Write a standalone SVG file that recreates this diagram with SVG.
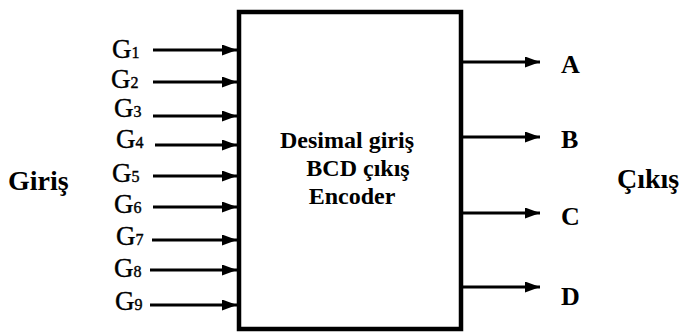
<svg xmlns="http://www.w3.org/2000/svg" width="687" height="334" viewBox="0 0 687 334">
<style>
.ln{stroke:#000;stroke-width:2.8;fill:none}
.g{font-family:"Liberation Serif","Times New Roman",serif;font-size:27px;fill:#000;stroke:#000;stroke-width:0.4}
.g tspan{font-size:16px}
.b{font-family:"Liberation Serif","Times New Roman",serif;font-weight:bold;fill:#000}
</style>
<defs>
<marker id="ah" markerWidth="15" markerHeight="11" refX="15" refY="5.5" orient="auto" markerUnits="userSpaceOnUse">
<path d="M0,0 L15,5.5 L0,11 Z" fill="#000"/>
</marker>
</defs>
<rect width="687" height="334" fill="#fff"/>
<g id="encoder">
<rect x="239" y="12" width="222" height="317" fill="#fff" stroke="#000" stroke-width="4.5"/>
<text class="b" font-size="24" text-anchor="middle" x="347" y="148">Desimal giriş</text>
<text class="b" font-size="24" text-anchor="middle" x="358" y="176">BCD çıkış</text>
<text class="b" font-size="24" text-anchor="middle" x="352" y="204">Encoder</text>
</g>
<g id="inputs">
<text class="g" x="112" y="58">G<tspan>1</tspan></text>
<text class="g" x="111" y="88">G<tspan>2</tspan></text>
<text class="g" x="114" y="117">G<tspan>3</tspan></text>
<text class="g" x="116" y="148">G<tspan>4</tspan></text>
<text class="g" x="112" y="182">G<tspan>5</tspan></text>
<text class="g" x="114" y="213">G<tspan>6</tspan></text>
<text class="g" x="116" y="245">G<tspan>7</tspan></text>
<text class="g" x="114" y="277">G<tspan>8</tspan></text>
<text class="g" x="115" y="310">G<tspan>9</tspan></text>
</g>
<g id="outputs">
<text class="b" font-size="26" x="561" y="73">A</text>
<text class="b" font-size="26" x="561" y="148">B</text>
<text class="b" font-size="26" x="561" y="225">C</text>
<text class="b" font-size="26" x="561" y="305">D</text>
</g>
<g id="label-giris"><text class="b" font-size="28" x="8" y="190">Giriş</text></g>
<g id="label-cikis"><text class="b" font-size="28" x="617" y="188">Çıkış</text></g>
<g id="connectors">
<line class="ln" x1="153" y1="50" x2="237" y2="50" marker-end="url(#ah)"/>
<line class="ln" x1="153" y1="82" x2="237" y2="82" marker-end="url(#ah)"/>
<line class="ln" x1="153" y1="116" x2="237" y2="116" marker-end="url(#ah)"/>
<line class="ln" x1="155" y1="145" x2="237" y2="145" marker-end="url(#ah)"/>
<line class="ln" x1="153" y1="176" x2="237" y2="176" marker-end="url(#ah)"/>
<line class="ln" x1="153" y1="207" x2="237" y2="207" marker-end="url(#ah)"/>
<line class="ln" x1="152" y1="240" x2="237" y2="240" marker-end="url(#ah)"/>
<line class="ln" x1="150" y1="270" x2="237" y2="270" marker-end="url(#ah)"/>
<line class="ln" x1="150" y1="305" x2="237" y2="305" marker-end="url(#ah)"/>
<line class="ln" x1="463" y1="62" x2="540" y2="62" marker-end="url(#ah)"/>
<line class="ln" x1="463" y1="137" x2="540" y2="137" marker-end="url(#ah)"/>
<line class="ln" x1="463" y1="213" x2="540" y2="213" marker-end="url(#ah)"/>
<line class="ln" x1="463" y1="287" x2="540" y2="287" marker-end="url(#ah)"/>
</g>
</svg>
